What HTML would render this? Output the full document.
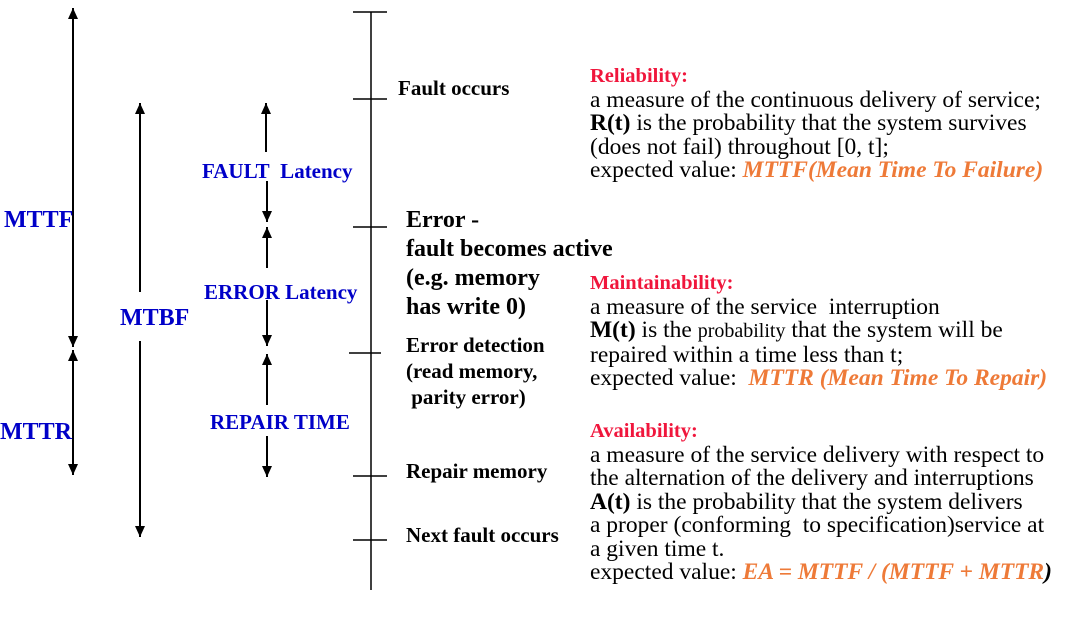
<!DOCTYPE html>
<html><head><meta charset="utf-8"><style>
body{margin:0;width:1080px;height:639px;background:#fff;position:relative;overflow:hidden;font-family:"Liberation Serif",serif}
.t{position:absolute;white-space:nowrap;line-height:1}
.b{font-weight:bold}
.blue{color:#0000c8;font-weight:bold}
.red{color:#f0163c;font-weight:bold;font-size:20.5px}
.body{font-size:23.5px;color:#000}
.or{color:#ee7a38;font-weight:bold;font-style:italic;font-size:23.5px}
</style></head><body>
<svg width="1080" height="639" style="position:absolute;left:0;top:0">
<defs><marker id="ah" markerUnits="userSpaceOnUse" markerWidth="11" markerHeight="10" refX="11" refY="5" orient="auto"><path d="M0,0 L11,5 L0,10 z" fill="#000"/></marker></defs>
<g stroke="#000" stroke-width="1.5">
<line x1="371" y1="12" x2="371" y2="590"/>
<line x1="353" y1="12" x2="387" y2="12"/><line x1="353" y1="99" x2="387" y2="99"/>
<line x1="353" y1="227" x2="387" y2="227"/><line x1="349" y1="353" x2="381" y2="353"/>
<line x1="353" y1="476" x2="387" y2="476"/><line x1="353" y1="540" x2="387" y2="540"/>
<g stroke-width="2" marker-end="url(#ah)">
<line x1="73" y1="200" x2="73" y2="8"/>
<line x1="73" y1="200" x2="73" y2="347"/>
<line x1="73" y1="400" x2="73" y2="350"/>
<line x1="73" y1="400" x2="73" y2="475"/>
<line x1="140" y1="292" x2="140" y2="103"/>
<line x1="140" y1="341" x2="140" y2="537"/>
<line x1="266" y1="152" x2="266" y2="103"/>
<line x1="267" y1="181" x2="267" y2="222"/>
<line x1="267" y1="268" x2="267" y2="227"/>
<line x1="267" y1="300" x2="267" y2="346"/>
<line x1="267" y1="405" x2="267" y2="354"/>
<line x1="267" y1="436" x2="267" y2="477"/>
</g></g></svg>
<div class="t blue" style="left:4px;top:208px;font-size:24px">MTTF</div>
<div class="t blue" style="left:0;top:420px;font-size:24px">MTTR</div>
<div class="t blue" style="left:120px;top:306px;font-size:24px">MTBF</div>
<div class="t blue" style="left:202px;top:161px;font-size:21px">FAULT&nbsp; Latency</div>
<div class="t blue" style="left:204px;top:282px;font-size:21px">ERROR Latency</div>
<div class="t blue" style="left:210px;top:412px;font-size:21px">REPAIR TIME</div>
<div class="t b" style="left:398px;top:78px;font-size:21px">Fault occurs</div>
<div class="t b" style="left:406px;top:206px;font-size:24px;line-height:29px">Error -<br>fault becomes active<br>(e.g. memory<br>has write 0)</div>
<div class="t b" style="left:406px;top:332px;font-size:21px;line-height:26px">Error detection<br>(read memory,<br>&nbsp;parity error)</div>
<div class="t b" style="left:406px;top:461px;font-size:21px">Repair memory</div>
<div class="t b" style="left:406px;top:525px;font-size:21px">Next fault occurs</div>
<div class="t body" style="left:590px;top:64px;line-height:23.5px">
<span class="red">Reliability:</span><br>a measure of the continuous delivery of service;<br><b>R(t)</b> is the probability that the system survives<br>(does not fail) throughout [0, t];<br>expected value: <span class="or">MTTF(Mean Time To Failure)</span></div>
<div class="t body" style="left:590px;top:271px;line-height:23.5px">
<span class="red">Maintainability:</span><br>a measure of the service&nbsp; interruption<br><b>M(t)</b> is the <span style="font-size:20px">probability</span> that the system will be<br>repaired within a time less than t;<br>expected value:&nbsp; <span class="or">MTTR (Mean Time To Repair)</span></div>
<div class="t body" style="left:590px;top:419px;line-height:23.5px">
<span class="red">Availability:</span><br>a measure of the service delivery with respect to<br>the alternation of the delivery and interruptions<br><b>A(t)</b> is the probability that the system delivers<br>a proper (conforming&nbsp; to specification)service at<br>a given time t.<br>expected value: <span class="or">EA = MTTF / (MTTF + MTTR</span><b><i>)</i></b></div>
</body></html>
